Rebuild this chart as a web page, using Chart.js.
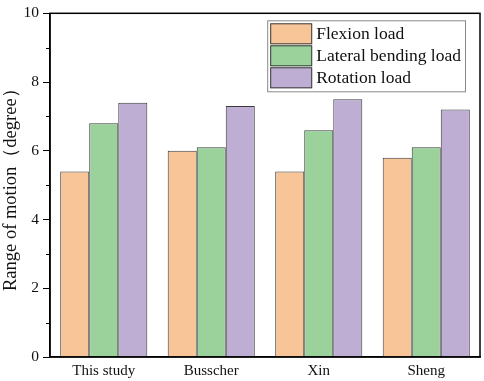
<!DOCTYPE html>
<html>
<head>
<meta charset="utf-8">
<script src="https://cdn.jsdelivr.net/npm/chart.js@4/dist/chart.umd.min.js"></script>
<style>
  body { margin: 0; background: #fff; }
  #romChart { display: block; }
</style>
</head>
<body>
<canvas id="romChart" width="484" height="381"></canvas>
<script>
const studies = ['This study', 'Busscher', 'Xin', 'Sheng'];
const flexionLoad = [5.4, 6.0, 5.4, 5.8];
const lateralBendingLoad = [6.8, 6.1, 6.6, 6.1];
const rotationLoad = [7.4, 7.3, 7.5, 7.2];
const yTicks = [0, 2, 4, 6, 8, 10];
const yMinorTicks = [1, 3, 5, 7, 9];

const serif = "'Liberation Serif', 'Times New Roman', serif";

// box around the plot, minor ticks on y axis
const framePlugin = {
    id: 'frame',
    afterDatasetsDraw(chart) {
        const ctx = chart.ctx;
        const a = chart.chartArea;
        ctx.save();
        ctx.strokeStyle = '#000';
        ctx.lineWidth = 1.5;
        ctx.strokeRect(a.left, a.top, a.right - a.left, a.bottom - a.top);
        const y = chart.scales.y;
        ctx.lineWidth = 1;
        yMinorTicks.forEach(v => {
            const py = Math.round(y.getPixelForValue(v)) + 0.5;
            ctx.beginPath();
            ctx.moveTo(a.left - 4, py);
            ctx.lineTo(a.left, py);
            ctx.stroke();
        });
        ctx.restore();
    }
};

// legend in a grey box, top right inside the plot
const boxLegendPlugin = {
    id: 'boxLegend',
    afterDraw(chart) {
        const ctx = chart.ctx;
        const a = chart.chartArea;
        const sets = chart.data.datasets;
        const swW = 42, swH = 21, gap = 4, pad = 3;
        ctx.save();
        ctx.font = "17.5px " + serif;
        let textW = 0;
        sets.forEach(d => { textW = Math.max(textW, ctx.measureText(d.label).width); });
        const w = pad + swW + gap + textW + 4;
        const h = pad * 2 + swH * sets.length + (sets.length - 1) * 1;
        const x0 = a.right - 15 - w;
        const y0 = a.top + 7;
        ctx.fillStyle = '#fff';
        ctx.fillRect(x0, y0, w, h);
        ctx.strokeStyle = '#8a8a8a';
        ctx.lineWidth = 1;
        ctx.strokeRect(x0 + 0.5, y0 + 0.5, w, h);
        sets.forEach((d, i) => {
            const sy = y0 + pad + i * (swH + 1);
            ctx.fillStyle = d.backgroundColor;
            ctx.fillRect(x0 + pad, sy, swW, swH);
            ctx.strokeStyle = '#3a3a3a';
            ctx.strokeRect(x0 + pad + 0.5, sy + 0.5, swW - 1, swH - 1);
            ctx.fillStyle = '#111';
            ctx.textBaseline = 'middle';
            ctx.fillText(d.label, x0 + pad + swW + gap, sy + swH / 2 + 1);
        });
        ctx.restore();
    }
};

const romData = {
    labels: studies,
    datasets: [
        {
            label: 'Flexion load',
            data: flexionLoad,
            backgroundColor: '#f8c598',
            borderColor: '#3a3a3a',
            borderWidth: 1
        },
        {
            label: 'Lateral bending load',
            data: lateralBendingLoad,
            backgroundColor: '#9bd29c',
            borderColor: '#3a3a3a',
            borderWidth: 1
        },
        {
            label: 'Rotation load',
            data: rotationLoad,
            backgroundColor: '#bfaed4',
            borderColor: '#3a3a3a',
            borderWidth: 1
        }
    ]
};

const romConfig = {
    type: 'bar',
    data: romData,
    options: {
        responsive: false,
        animation: false,
        layout: { padding: { top: 10, right: 4, left: 0, bottom: 0 } },
        datasets: {
            bar: { barPercentage: 1, categoryPercentage: 0.81 }
        },
        plugins: {
            legend: { display: false },
            tooltip: { enabled: false }
        },
        scales: {
            x: {
                grid: { display: false, drawTicks: false },
                border: { display: true, color: '#000', width: 1.5 },
                ticks: {
                    color: '#111',
                    padding: 5,
                    font: { family: serif, size: 15 }
                },
                afterFit: function (scale) { scale.height = 24; }
            },
            y: {
                min: 0,
                max: 10,
                afterBuildTicks: function (scale) {
                    scale.ticks = yTicks.map(v => ({ value: v }));
                },
                grid: {
                    drawOnChartArea: false,
                    drawTicks: true,
                    tickLength: 7,
                    tickColor: '#000',
                    tickWidth: 1
                },
                border: { display: true, color: '#000', width: 1.5 },
                ticks: {
                    color: '#111',
                    padding: 4,
                    font: { family: serif, size: 15.5 }
                },
                title: {
                    display: true,
                    text: 'Range of motion（degree）',
                    color: '#111',
                    padding: { top: 0, bottom: 0 },
                    font: { family: serif, size: 18.5 }
                },
                afterFit: function (scale) { scale.width = 50; }
            }
        }
    },
    plugins: [framePlugin, boxLegendPlugin]
};

document.addEventListener('DOMContentLoaded', function () {
    const ctx = document.getElementById('romChart').getContext('2d');
    new Chart(ctx, romConfig);
});
</script>
</body>
</html>
